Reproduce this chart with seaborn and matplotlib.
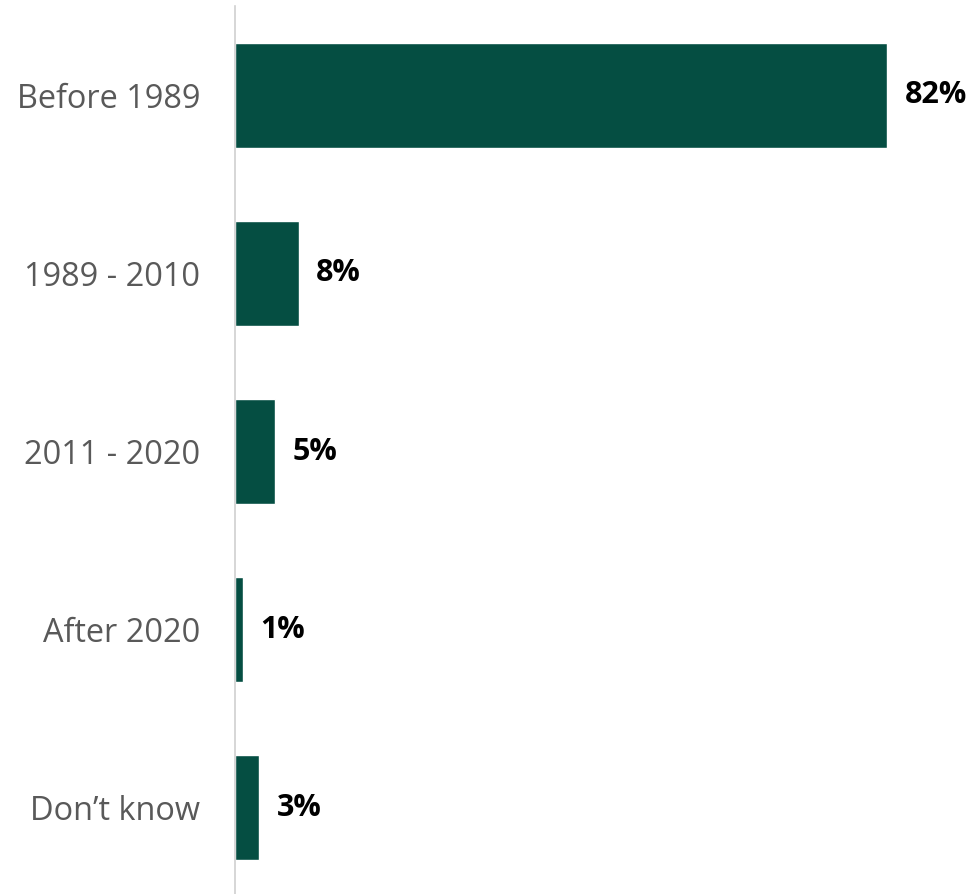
import numpy as np
import pandas as pd
import seaborn as sns
import matplotlib.pyplot as plt

# data
categories = ["Before 1989", "1989 - 2010", "2011 - 2020", "After 2020", "Don\u2019t know"]
values = [82, 8, 5, 1, 3]

df = pd.DataFrame({"period": categories, "share": values})

sns.set_style("white")
plt.rcParams['font.family'] = ['Open Sans', 'DejaVu Sans']

fig = plt.figure(figsize=(9.75, 8.94), dpi=100)
ax = fig.add_axes([235 / 975, -3 / 894, 740 / 975, 891 / 894])

sns.barplot(data=df, x="share", y="period", color="#054E42", width=0.59,
            saturation=1, ax=ax)

# value labels
for i, v in enumerate(values):
    ax.text(v + 2.2, i, f"{v}%", va="center", ha="left",
            fontsize=22, fontweight="bold", color="black")

ax.set_xlim(0, 93)
ax.set_ylim(4.5, -0.5)
ax.set_xlabel("")
ax.set_ylabel("")
ax.set_xticks([])
ax.tick_params(axis="y", length=0, pad=25, labelsize=23.4, labelcolor="#595959")

for s in ["top", "right", "bottom"]:
    ax.spines[s].set_visible(False)
ax.spines["left"].set_color("#D0D0D0")
ax.spines["left"].set_linewidth(1.2)

fig.savefig("out.png", dpi=100)
